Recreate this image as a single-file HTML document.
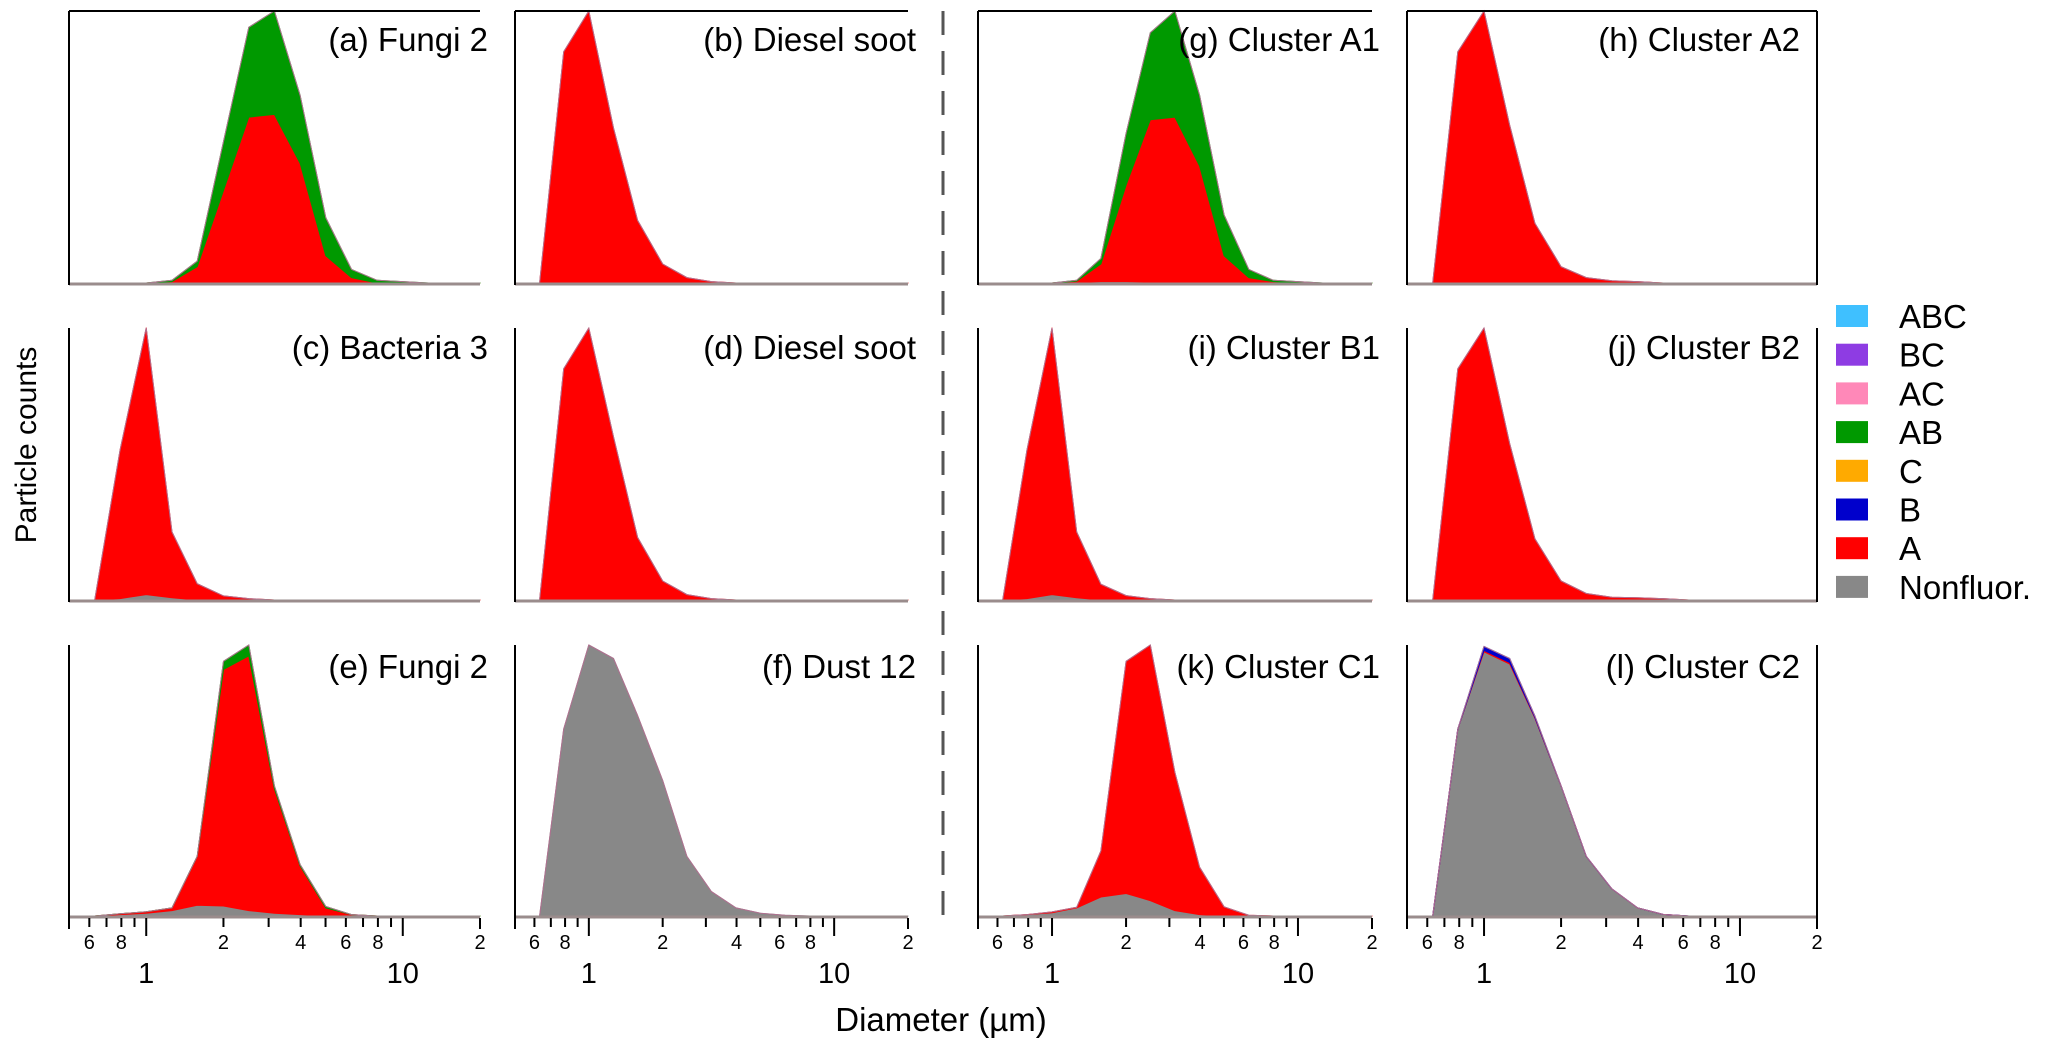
<!DOCTYPE html>
<html><head><meta charset="utf-8"><style>
html,body{margin:0;padding:0;background:#fff;}
svg{display:block;font-family:"Liberation Sans",Arial,sans-serif;}
</style></head><body>
<svg id="chart" width="2067" height="1047" viewBox="0 0 2067 1047" xmlns="http://www.w3.org/2000/svg"></svg>
<script>
// Bin centre diameters (µm)
const diameters = [0.5,0.63,0.79,1.0,1.26,1.58,2.0,2.51,3.16,3.98,5.01,6.31,7.94,10,12.6,15.8,20];
const panelTitles = ["(a) Fungi 2","(b) Diesel soot","(c) Bacteria 3","(d) Diesel soot","(e) Fungi 2","(f) Dust 12","(g) Cluster A1","(h) Cluster A2","(i) Cluster B1","(j) Cluster B2","(k) Cluster C1","(l) Cluster C2"];
const legendLabels = ["ABC","BC","AC","AB","C","B","A","Nonfluor."];
const minorTickValues = [0.6,0.7,0.8,0.9,2,3,4,5,6,7,8,9];
const minorTickLabels = ["6","","8","","2","","4","","6","","8",""];
const majorTickValues = [1,10];
const majorTickLabels = ["1","10"];
// Stacked series (normalised counts) per panel
const grayA = [0,0,0,0,0,0,0,0,0,0,0,0,0,0,0,0,0];
const redA  = [0,0,0,0,0.005,0.06,0.34,0.61,0.62,0.44,0.10,0.02,0,0,0,0,0];
const abA   = [0,0,0,0,0.005,0.02,0.18,0.33,0.38,0.25,0.14,0.03,0.01,0.005,0,0,0];
const grayB = [0,0,0,0,0,0,0,0,0,0,0,0,0,0,0,0,0];
const redB  = [0,0,0.85,1.0,0.57,0.23,0.07,0.02,0.005,0,0,0,0,0,0,0,0];
const grayC = [0,0,0.005,0.02,0.008,0,0,0,0,0,0,0,0,0,0,0,0];
const redC  = [0,0,0.545,0.98,0.242,0.06,0.015,0.005,0,0,0,0,0,0,0,0,0];
const grayD = [0,0,0,0,0,0,0,0,0,0,0,0,0,0,0,0,0];
const redD  = [0,0,0.85,1.0,0.6,0.23,0.07,0.02,0.005,0,0,0,0,0,0,0,0];
const grayE = [0,0,0.005,0.01,0.02,0.04,0.037,0.02,0.01,0.005,0,0,0,0,0,0,0];
const redE  = [0,0,0.003,0.006,0.01,0.18,0.873,0.94,0.46,0.18,0.03,0.005,0,0,0,0,0];
const abE   = [0,0,0,0,0,0,0.03,0.04,0.01,0.005,0.005,0,0,0,0,0,0];
const grayF = [0,0,0.69,1.0,0.95,0.74,0.5,0.22,0.09,0.03,0.01,0.003,0,0,0,0,0];
const grayG = [0,0,0,0,0.002,0.005,0.005,0.003,0.002,0.001,0,0,0,0,0,0,0];
const redG  = [0,0,0,0,0.005,0.065,0.355,0.597,0.608,0.429,0.10,0.02,0.005,0,0,0,0];
const abG   = [0,0,0,0,0.003,0.02,0.19,0.32,0.39,0.26,0.15,0.03,0.005,0.005,0,0,0];
const redH  = [0,0,0.85,1.0,0.58,0.22,0.06,0.02,0.008,0.005,0,0,0,0,0,0,0];
const grayI = [0,0,0.005,0.02,0.008,0,0,0,0,0,0,0,0,0,0,0,0];
const redI  = [0,0,0.545,0.98,0.242,0.058,0.016,0.005,0,0,0,0,0,0,0,0,0];
const redJ  = [0,0,0.85,1.0,0.575,0.225,0.07,0.024,0.01,0.008,0.005,0,0,0,0,0,0];
const grayK = [0,0,0.005,0.012,0.03,0.07,0.083,0.057,0.02,0.005,0,0,0,0,0,0,0];
const redK  = [0,0,0,0.003,0.002,0.17,0.857,0.943,0.51,0.175,0.034,0.003,0,0,0,0,0];
const grayL = [0,0,0.69,0.975,0.93,0.73,0.48,0.22,0.1,0.03,0.006,0,0,0,0,0,0];
const redL  = [0,0,0,0.005,0.005,0.003,0,0,0,0,0,0,0,0,0,0,0];
const blueL = [0,0,0,0.015,0.015,0.005,0,0,0,0,0,0,0,0,0,0,0];

const NS = "http://www.w3.org/2000/svg";
const svg = document.getElementById("chart");
function mk(tag, attrs, parent){const e=document.createElementNS(NS,tag);for(const k in attrs)e.setAttribute(k,attrs[k]);(parent||svg).appendChild(e);return e;}

const cols = [[69,480],[515,908],[978,1372],[1407,1817]];
const titleDx = [8,8,8,-17];
const rows = [[11,283],[328,600],[645,916]];
const titleY = [51,359,678];
const panels = [
 {c:0,r:0,s:[[grayA,"#888888"],[redA,"#ff0000"],[abA,"#009900"]]},
 {c:1,r:0,s:[[grayB,"#888888"],[redB,"#ff0000"]]},
 {c:0,r:1,s:[[grayC,"#888888"],[redC,"#ff0000"]]},
 {c:1,r:1,s:[[grayD,"#888888"],[redD,"#ff0000"]]},
 {c:0,r:2,s:[[grayE,"#888888"],[redE,"#ff0000"],[abE,"#009900"]]},
 {c:1,r:2,s:[[grayF,"#888888"]]},
 {c:2,r:0,s:[[grayG,"#888888"],[redG,"#ff0000"],[abG,"#009900"]]},
 {c:3,r:0,s:[[redH,"#ff0000"]]},
 {c:2,r:1,s:[[grayI,"#888888"],[redI,"#ff0000"]]},
 {c:3,r:1,s:[[redJ,"#ff0000"]]},
 {c:2,r:2,s:[[grayK,"#888888"],[redK,"#ff0000"]]},
 {c:3,r:2,s:[[grayL,"#888888"],[redL,"#ff0000"],[blueL,"#0000cc"]]}
];
const lmin=Math.log10(0.5), lmax=Math.log10(20);

panels.forEach((p,pi)=>{
  const [x0,x1]=cols[p.c], [y0,y1]=rows[p.r];
  const xs=d=>x0+(Math.log10(d)-lmin)/(lmax-lmin)*(x1-x0);
  const ys=v=>y1-v*(y1-y0);
  const g=mk("g",{});
  
  
  let cum=diameters.map(()=>0);
  p.s.forEach(([vals,col])=>{
    const top=cum.map((c,i)=>c+vals[i]);
    let d="M"+diameters.map((dm,i)=>xs(dm).toFixed(1)+","+ys(top[i]).toFixed(1)).join(" L");
    for(let i=diameters.length-1;i>=0;i--) d+=" L"+xs(diameters[i]).toFixed(1)+","+ys(cum[i]).toFixed(1);
    const path=mk("path",{d:d+"Z",fill:col,stroke:col,"stroke-width":1,"stroke-linejoin":"round"},g);
    
    
    cum=top;
  });
  mk("polyline",{points:diameters.map((dm,i)=>xs(dm).toFixed(1)+","+ys(cum[i]).toFixed(1)).join(" "),fill:"none",stroke:"#b07090","stroke-width":1},g);
  const base=mk("line",{x1:x0,x2:x1,y1:y1+1,y2:y1+1,stroke:"#9a8c8c","stroke-width":3},g);
  
  
  const la=mk("line",{x1:x0,x2:x0,y1:y0,y2:y1+2,stroke:"#000","stroke-width":2},g);
  
  
  if(p.r===0){mk("line",{x1:x0,x2:x1,y1:y0,y2:y0,stroke:"#000","stroke-width":2},g);}
  if(p.c===3){mk("line",{x1:x1,x2:x1,y1:y0,y2:y1+2,stroke:"#000","stroke-width":2},g);}
  const t=mk("text",{x:x1+titleDx[p.c],y:titleY[p.r],"text-anchor":"end","font-size":33,fill:"#000"},g);
  t.textContent=panelTitles[pi];
  
  
  if(p.r===2){
    const ay=y1+2;
    mk("line",{x1:xs(0.5),x2:xs(0.5),y1:ay,y2:ay+11,stroke:"#000","stroke-width":2},g);
    mk("line",{x1:xs(20),x2:xs(20),y1:ay,y2:ay+11,stroke:"#000","stroke-width":2},g);
    const e=mk("text",{x:xs(20),y:949,"text-anchor":"middle","font-size":20},g); e.textContent="2";
    minorTickValues.forEach((v,i)=>{
      mk("line",{x1:xs(v),x2:xs(v),y1:ay,y2:ay+9,stroke:"#000","stroke-width":2},g);
      if(minorTickLabels[i]){const tl=mk("text",{x:xs(v),y:949,"text-anchor":"middle","font-size":20},g);tl.textContent=minorTickLabels[i];
        
        }
    });
    majorTickValues.forEach((v,i)=>{
      mk("line",{x1:xs(v),x2:xs(v),y1:ay,y2:ay+18,stroke:"#000","stroke-width":2},g);
      const tl=mk("text",{x:xs(v),y:983,"text-anchor":"middle","font-size":29},g);tl.textContent=majorTickLabels[i];
      
      
    });
  }
});

const dv=mk("line",{x1:943,x2:943,y1:11,y2:922,stroke:"#555","stroke-width":3,"stroke-dasharray":"24,16"});



const legendColors=["#3fc0ff","#8e3ce3","#ff88b8","#009900","#ffaa00","#0000cc","#ff0000","#888888"];
legendLabels.forEach((lab,i)=>{
  const y=316+i*38.7;
  const g=mk("g",{});
  
  
  mk("rect",{x:1836,y:y-11,width:32,height:22,fill:legendColors[i]},g);
  const t=mk("text",{x:1899,y:y+12,"font-size":33},g); t.textContent=lab;
});

const yt=mk("text",{x:0,y:0,"font-size":30,"text-anchor":"middle",transform:"translate(36,445) rotate(-90)"});
yt.textContent="Particle counts";


const xt=mk("text",{x:941,y:1031,"font-size":33,"text-anchor":"middle"});
xt.textContent="Diameter (µm)";


</script>
</body></html>
